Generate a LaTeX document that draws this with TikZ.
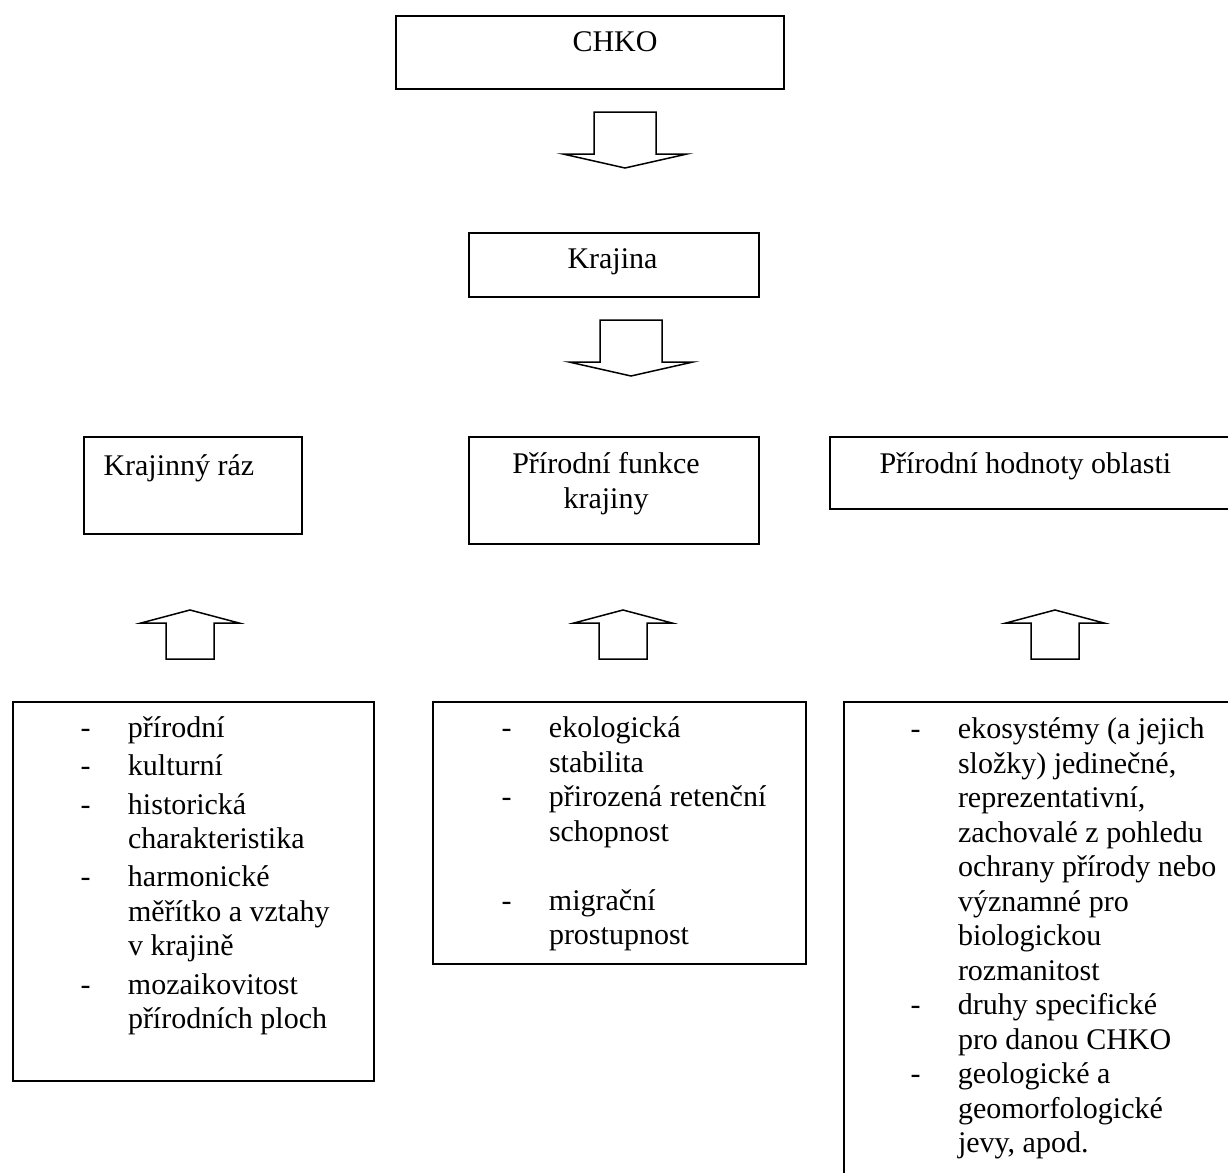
\documentclass[tikz,border=0pt]{standalone}
\usepackage{fontspec}
\setmainfont{Liberation Serif}
\usetikzlibrary{positioning}

\newcommand{\itm}{\makebox[19pt][l]{-}}
\newcommand{\cnt}{\hspace*{19pt}}
\newcommand{\tp}{\rule{0pt}{11pt}}

\tikzset{
  downarr/.pic={\draw[line width=0.6pt] (-31,0) -- (31,0) -- (31,42) -- (62,42) -- (0,56) -- (-62,42) -- (-31,42) -- cycle;},
  uparr/.pic={\draw[line width=0.6pt] (-24,0) -- (24,0) -- (24,-36) -- (49,-36) -- (0,-49) -- (-49,-36) -- (-24,-36) -- cycle;}
}

\begin{document}
\begin{tikzpicture}[x=0.4pt, y=-0.4pt,
    box/.style = {draw, line width=0.8pt, anchor=north west, inner sep=0pt},
    txt/.style = {font=\fontsize{12}{13.8}\selectfont, inner sep=0pt, anchor=base west},
    lst/.style = {txt, align=left, anchor=north west}]
  \clip (0,0) rectangle (1228,1173);

  % boxes
  \node[box, minimum width=155.2pt, minimum height=29.2pt] (chko) at (395,15) {};
  \node[box, minimum width=116pt, minimum height=25.6pt] (krajina) at (468,232) {};
  \node[box, minimum width=87.2pt, minimum height=38.8pt] (raz) at (83,436) {};
  \node[box, minimum width=116pt, minimum height=42.8pt] (funkce) at (468,436) {};
  \node[box, minimum width=168pt, minimum height=28.8pt] (hodnoty) at (829,436) {};
  \node[box, minimum width=144.4pt, minimum height=151.6pt] (lraz) at (12,701) {};
  \node[box, minimum width=149.2pt, minimum height=104.8pt] (lfunkce) at (432,701) {};
  \node[box, minimum width=160pt, minimum height=200pt] (lhodnoty) at (843,701) {};

  % texts (list tops = first baseline - 27.5)
  \node[txt] (chkot) at (572,52) {CHKO};
  \node[txt] (krajinat) at (567,268) {Krajina};
  \node[txt] (razt) at (103,475) {Krajinný ráz};
  \node[txt, align=center, anchor=north] (funkcet) at (606,445.5) {\tp Přírodní funkce\\krajiny};
  \node[txt] (hodnotyt) at (879,473) {Přírodní hodnoty oblasti};

  \node[lst] (lrazt) at (80,709.5) {\tp\itm přírodní\\[1.5pt] \itm kulturní\\[1.5pt] \itm historická\\ \cnt charakteristika\\[1.5pt]
    \itm harmonické\\ \cnt měřítko a vztahy\\ \cnt v krajině\\[1.5pt] \itm mozaikovitost\\ \cnt přírodních ploch};
  \node[lst] (lfunkcet) at (501,709.5) {\tp\itm ekologická\\ \cnt stabilita\\ \itm přirozená retenční\\ \cnt schopnost\\[13.8pt]
    \itm migrační\\ \cnt prostupnost};
  \node[lst] (lhodnotyt) at (910,710.5) {\tp\itm ekosystémy (a jejich\\ \cnt složky) jedinečné,\\ \cnt reprezentativní,\\
    \cnt zachovalé z pohledu\\ \cnt ochrany přírody nebo\\ \cnt významné pro\\ \cnt biologickou\\ \cnt rozmanitost\\
    \itm druhy specifické\\ \cnt pro danou CHKO\\ \itm geologické a\\ \cnt geomorfologické\\ \cnt jevy, apod.};

  % block arrows
  \pic at (625,112) {downarr};
  \pic at (631,320) {downarr};
  \pic at (190,659) {uparr};
  \pic at (623,659) {uparr};
  \pic at (1055,659) {uparr};
\end{tikzpicture}
\end{document}
